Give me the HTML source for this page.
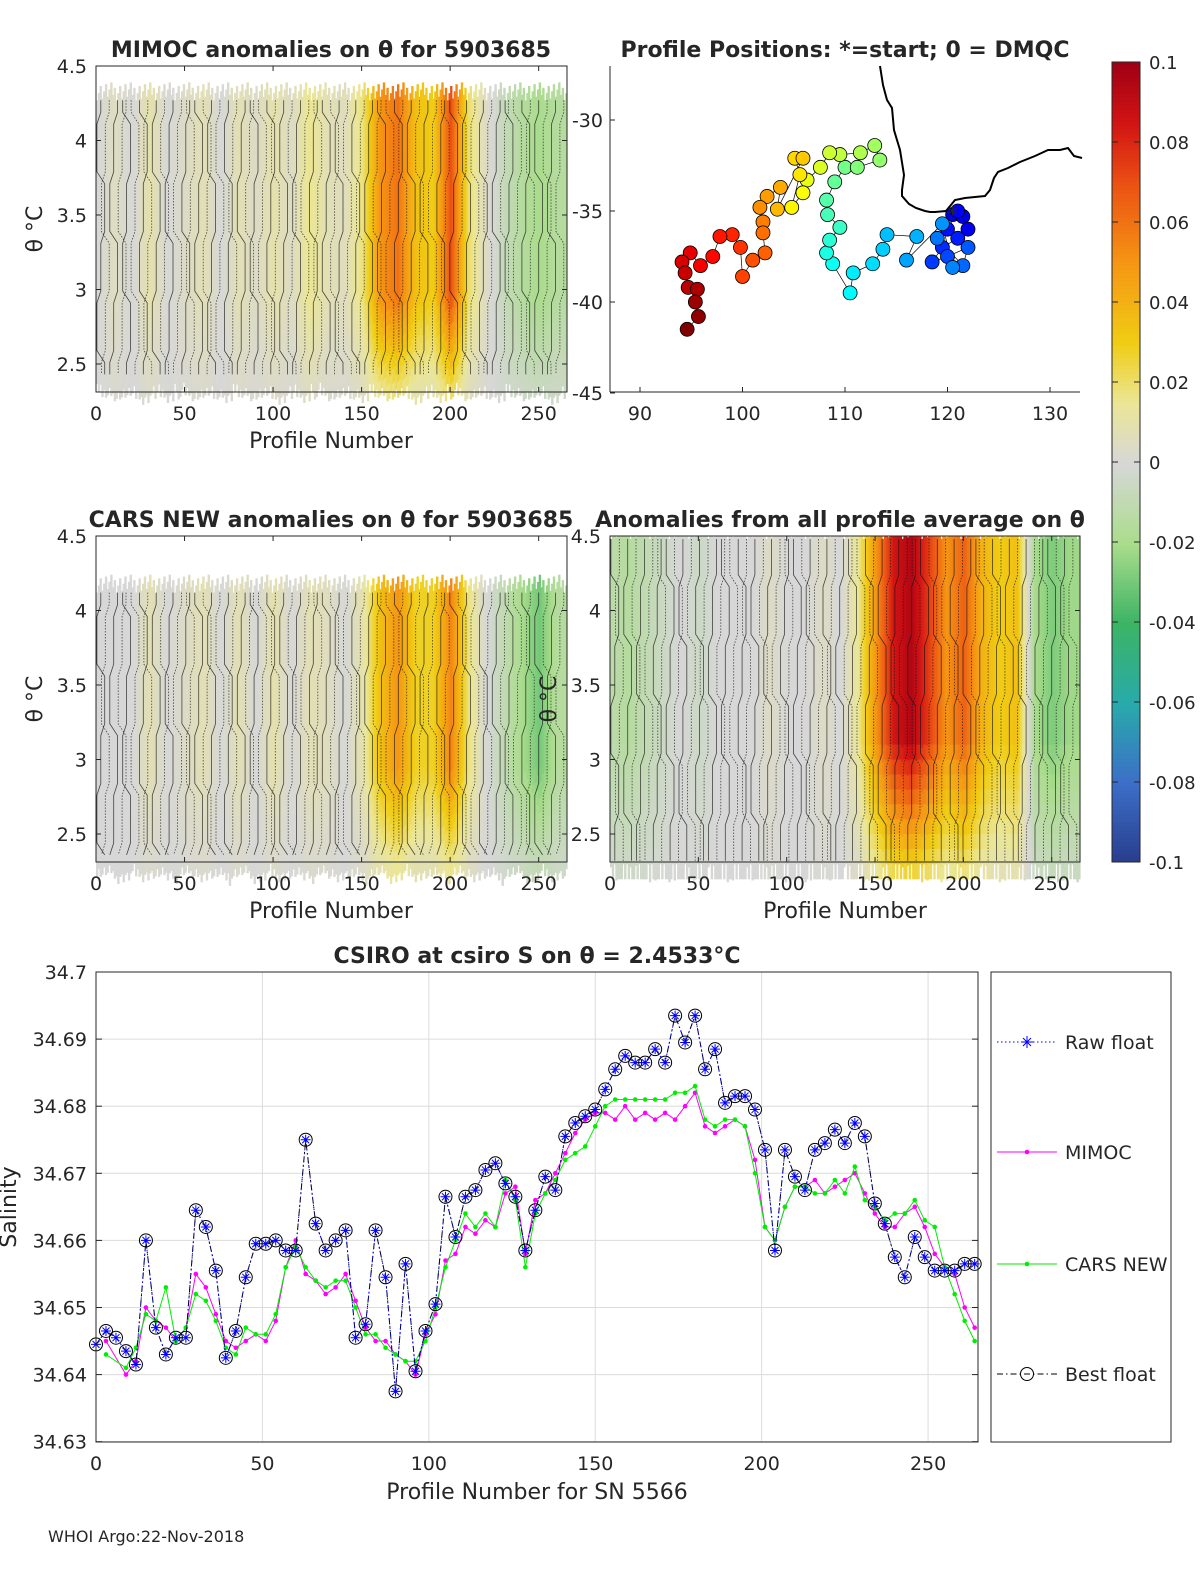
<!DOCTYPE html>
<html><head><meta charset="utf-8">
<style>
body{margin:0;background:#fff;font-family:"Liberation Sans","DejaVu Sans",sans-serif;overflow:hidden}
svg{display:block}
text{font-family:"DejaVu Sans","Liberation Sans",sans-serif;fill:#262626}
</style></head>
<body>
<svg id="fig" width="1200" height="1575" viewBox="0 0 1200 1575">
<rect width="1200" height="1575" fill="#fff"/>
<g id="heat1"></g>
<g id="heat3"></g>
<g id="heat4"></g>
<g id="map"></g>
<g id="cbar"></g>
<g id="line"></g>
<g id="axes"></g>
<text x="48" y="1542" font-size="16" fill="#000">WHOI Argo:22-Nov-2018</text>
</svg>
<script>
// ---------- data ----------
const heatProfiles=[0,10,20,30,40,50,60,70,80,90,100,110,120,130,140,150,160,170,180,190,200,210,220,230,240,250,260];
const mimocAnom=[0,0.005,0,0.01,0,0.004,0.008,0,0.008,0.004,0.01,0.004,0.016,0.008,0.006,0.018,0.05,0.06,0.035,0.03,0.07,0.02,0.004,-0.008,-0.015,-0.02,-0.015];
const carsAnom=[0,0,0,0.008,0,0.004,0.008,0,0.008,0,0.01,0,0.008,0.006,0,0.01,0.035,0.05,0.028,0.028,0.055,0.018,0,-0.01,-0.02,-0.03,-0.015];
const avgAnom=[-0.012,-0.015,-0.01,-0.005,0,-0.005,0,0,0,0.004,0,0,0.004,0,0.015,0.05,0.085,0.095,0.075,0.05,0.065,0.04,0.03,0.035,-0.02,-0.028,-0.022];

const bestProf=[0,3,6,9,12,15,18,21,24,27,30,33,36,39,42,45,48,51,54,57,60,63,66,69,72,75,78,81,84,87,90,93,96,99,102,105,108,111,114,117,120,123,126,129,132,135,138,141,144,147,150,153,156,159,162,165,168,171,174,177,180,183,186,189,192,195,198,201,204,207,210,213,216,219,222,225,228,231,234,237,240,243,246,249,252,255,258,261,264];
const bestSal=[34.6445,34.6465,34.6455,34.6435,34.6415,34.660,34.647,34.643,34.6455,34.6455,34.6645,34.662,34.6555,34.6425,34.6465,34.6545,34.6595,34.6595,34.660,34.6585,34.6585,34.675,34.6625,34.6585,34.660,34.6615,34.6455,34.6475,34.6615,34.6545,34.6375,34.6565,34.6405,34.6465,34.6505,34.6665,34.6605,34.6665,34.6675,34.6705,34.6715,34.6685,34.6665,34.6585,34.6645,34.6695,34.6675,34.6755,34.6775,34.6785,34.6795,34.6825,34.6855,34.6875,34.6865,34.6865,34.6885,34.6865,34.6935,34.6895,34.6935,34.6855,34.6885,34.6805,34.6815,34.6815,34.6795,34.6735,34.6585,34.6735,34.6695,34.6675,34.6735,34.6745,34.6765,34.6745,34.6775,34.6755,34.6655,34.6625,34.6575,34.6545,34.6605,34.6575,34.6555,34.6555,34.6555,34.6565,34.6565];
const modProf=[3,9,12,15,18,21,24,27,30,33,36,39,42,45,48,51,54,57,60,63,66,69,72,75,78,81,84,87,90,93,96,99,102,105,108,111,114,117,120,123,126,129,132,135,138,141,144,147,150,153,156,159,162,165,168,171,174,177,180,183,186,189,192,195,198,201,204,207,210,213,216,219,222,225,228,231,234,237,240,243,246,249,252,255,258,261,264];
const mimocSal=[34.645,34.640,34.642,34.650,34.648,34.647,34.645,34.647,34.655,34.653,34.649,34.645,34.644,34.645,34.646,34.645,34.648,34.656,34.660,34.655,34.654,34.652,34.653,34.655,34.651,34.647,34.645,34.645,34.643,34.642,34.640,34.646,34.649,34.657,34.658,34.662,34.661,34.663,34.662,34.667,34.668,34.658,34.666,34.667,34.670,34.673,34.676,34.678,34.679,34.679,34.678,34.680,34.678,34.679,34.678,34.679,34.678,34.680,34.682,34.677,34.676,34.677,34.678,34.677,34.672,34.662,34.660,34.665,34.668,34.668,34.669,34.667,34.668,34.669,34.670,34.667,34.664,34.662,34.662,34.664,34.665,34.662,34.658,34.656,34.655,34.650,34.647];
const carsSal=[34.643,34.641,34.644,34.649,34.648,34.653,34.645,34.647,34.652,34.651,34.648,34.644,34.643,34.647,34.646,34.646,34.649,34.656,34.659,34.656,34.654,34.653,34.654,34.654,34.650,34.646,34.646,34.644,34.643,34.642,34.642,34.645,34.650,34.656,34.660,34.664,34.662,34.664,34.662,34.669,34.666,34.656,34.664,34.667,34.669,34.672,34.673,34.674,34.677,34.680,34.681,34.681,34.681,34.681,34.681,34.681,34.682,34.682,34.683,34.678,34.677,34.678,34.678,34.677,34.670,34.662,34.660,34.665,34.668,34.668,34.667,34.667,34.669,34.667,34.671,34.666,34.665,34.663,34.664,34.664,34.666,34.663,34.662,34.656,34.652,34.648,34.645];
const salTicks=[34.63,34.64,34.65,34.66,34.67,34.68,34.69,34.7];
const profTicks=[0,50,100,150,200,250];

const trackLon=[120.5,121.5,122,121,120,121,119.5,118.5,120,122,121.5,119,120.5,119.5,116,117,114.1,113.7,112.7,110.8,110.5,108.8,108.2,108.5,109.5,108.3,108.2,109,110,111.2,113.4,112.9,111.5,109.5,108.5,107.6,106.3,105.9,104.8,105.6,105.1,105.9,103.4,103.7,102.4,101.7,102,102,102.2,101,100,99.8,99,97.8,97.1,95.9,94.9,94.1,94.4,94.7,95.6,95.4,95.7,94.6];
const trackLat=[-35.2,-35.3,-36,-35,-36,-36.5,-37,-37.8,-37.5,-37,-38,-36.5,-38.1,-35.7,-37.7,-36.4,-36.3,-37.1,-37.9,-38.4,-39.5,-37.9,-37.3,-36.6,-35.9,-35.2,-34.4,-33.4,-32.6,-32.6,-32.2,-31.4,-31.8,-31.9,-31.8,-32.6,-33.3,-34,-34.8,-33,-32.1,-32.1,-34.9,-33.7,-34.2,-34.8,-35.6,-36.2,-37.3,-37.7,-38.6,-37,-36.3,-36.4,-37.5,-38,-37.3,-37.8,-38.4,-39.2,-39.3,-40,-40.8,-41.5];

const NS='http://www.w3.org/2000/svg';
function mk(parent,tag,attrs,txt){const e=document.createElementNS(NS,tag);for(const k in attrs)e.setAttribute(k,attrs[k]);if(txt!==undefined)e.textContent=txt;parent.appendChild(e);return e;}

const cstops=[[-0.1,[40,60,140]],[-0.08,[60,110,200]],[-0.06,[40,170,170]],[-0.04,[60,180,100]],[-0.02,[170,220,140]],[0,[215,215,215]],[0.015,[235,230,150]],[0.03,[240,205,20]],[0.05,[245,150,20]],[0.07,[235,80,20]],[0.085,[210,20,20]],[0.1,[160,0,20]]];
function acol(v){v=Math.max(-0.1,Math.min(0.1,v));for(let i=0;i<cstops.length-1;i++){const a=cstops[i],b=cstops[i+1];if(v<=b[0]){const t=(v-a[0])/(b[0]-a[0]);const c=a[1].map((x,j)=>Math.round(x+(b[1][j]-x)*t));return `rgb(${c})`;}}return 'rgb(160,0,20)';}
function jet(t){const r=Math.max(0,Math.min(1,1.5-Math.abs(4*t-3))),g=Math.max(0,Math.min(1,1.5-Math.abs(4*t-2))),b=Math.max(0,Math.min(1,1.5-Math.abs(4*t-1)));return `rgb(${Math.round(r*255)},${Math.round(g*255)},${Math.round(b*255)})`;}
function interp(xs,ys,x){if(x<=xs[0])return ys[0];for(let i=0;i<xs.length-1;i++){if(x<=xs[i+1]){const t=(x-xs[i])/(xs[i+1]-xs[i]);return ys[i]+(ys[i+1]-ys[i])*t;}}return ys[ys.length-1];}

const axes=document.getElementById('axes');
function heatPanel(gid,L,R,T,B,anom,topTh,botTh,vert){
  const g=document.getElementById(gid);
  const xs=p=>L+p*(R-L)/266, ys=th=>T+(4.5-th)*149;
  for(let p=0;p<266;p++){
    const a=interp(heatProfiles,anom,p);
    const tt=Math.min(4.5,topTh+((p*37)%11)*0.012), bb=botTh-((p*53)%7)*0.01;
    for(let th=tt;th>bb;th-=0.1){
      const f=vert(th);
      const r=mk(g,'rect',{x:xs(p).toFixed(1),y:ys(th).toFixed(1),width:((R-L)/266+0.6).toFixed(2),height:15.5,fill:acol(a*f)});
      
      
    }
  }
  for(let p=2;p<264;p+=4){
    let d='';const x0=xs(p);
    for(let th=topTh;th>botTh;th-=0.08){const dx=((p*7+Math.round(th*40)*3)%9-4)*1.3;d+=(d?'L':'M')+(x0+dx).toFixed(1)+','+ys(th).toFixed(1);}
    const pl=mk(g,'path',{d:d,fill:'none',stroke:'#111','stroke-width':0.8,'stroke-dasharray':(p%8==2)?'none':'1.5,1.5','stroke-opacity':0.75});
    
    
  }
  mk(g,'rect',{x:L,y:T,width:R-L,height:B-T,fill:'none',stroke:'#262626','stroke-width':1});
  [2.5,3,3.5,4,4.5].forEach(v=>{const y=ys(v);mk(g,'line',{x1:L,x2:L+5,y1:y,y2:y,stroke:'#262626'});mk(g,'line',{x1:R,x2:R-5,y1:y,y2:y,stroke:'#262626'});});
  [0,50,100,150,200,250].forEach(v=>{const x=xs(v);mk(g,'line',{x1:x,x2:x,y1:B,y2:B-5,stroke:'#262626'});mk(g,'line',{x1:x,x2:x,y1:T,y2:T+5,stroke:'#262626'});mk(axes,'text',{x:x,y:B+28,'font-size':19,'text-anchor':'middle'},v);});
  return ys;
}
const vert1=th=>th>3.0?1:Math.max(0.3,1-(3.0-th)*1.1);
const ys1=heatPanel('heat1',96,567,66,392,mimocAnom,4.27,2.38,vert1);
const ys3=heatPanel('heat3',96,567,536,862,carsAnom,4.12,2.31,vert1);
const ys4=heatPanel('heat4',610,1080,536,862,avgAnom,4.48,2.31,th=>th>3.2?1:Math.max(0.25,1-(3.2-th)*0.8));
[ys1,ys3].forEach(ys=>{[2.5,3,3.5,4,4.5].forEach(v=>mk(axes,'text',{x:87,y:ys(v)+7,'font-size':19,'text-anchor':'end'},v));});
[2.5,3,3.5,4,4.5].forEach(v=>mk(axes,'text',{x:601,y:ys4(v)+7,'font-size':19,'text-anchor':'end'},v));
mk(axes,'text',{x:331,y:448,'font-size':22,'text-anchor':'middle'},'Profile Number');
mk(axes,'text',{x:331,y:918,'font-size':22,'text-anchor':'middle'},'Profile Number');
mk(axes,'text',{x:845,y:918,'font-size':22,'text-anchor':'middle'},'Profile Number');
mk(axes,'text',{x:42,y:229,'font-size':22,'text-anchor':'middle',transform:'rotate(-90 42 229)'},'θ °C');
mk(axes,'text',{x:42,y:699,'font-size':22,'text-anchor':'middle',transform:'rotate(-90 42 699)'},'θ °C');
mk(axes,'text',{x:556,y:699,'font-size':22,'text-anchor':'middle',transform:'rotate(-90 556 699)'},'θ °C');
mk(axes,'text',{x:331,y:57,'font-size':22,'font-weight':'bold','text-anchor':'middle',fill:'#000'},'MIMOC anomalies on θ  for 5903685');
mk(axes,'text',{x:845,y:57,'font-size':22,'font-weight':'bold','text-anchor':'middle',fill:'#000'},'Profile Positions: *=start; 0 = DMQC');
mk(axes,'text',{x:331,y:527,'font-size':22,'font-weight':'bold','text-anchor':'middle',fill:'#000'},'CARS NEW anomalies on θ for 5903685');
mk(axes,'text',{x:840,y:527,'font-size':22,'font-weight':'bold','text-anchor':'middle',fill:'#000'},'Anomalies from all profile average on θ');

// ---------- map ----------
const mapG=document.getElementById('map');
const mx=lon=>640+(lon-90)*10.25, my=lat=>120+(-30-lat)*18.2;
mk(mapG,'path',{d:'M880,66 L883,85 L887,100 L892,108 L894,130 L900,150 L904,175 L902,190 L902,196 L909,204 L916,208 L925,211 L930,212 L935,212 L946,211 L955,200 L965,198 L975,197 L985,196 L990,190 L994,178 L998,172 L1008,168 L1020,162 L1035,156 L1048,150 L1060,150 L1068,148 L1074,156 L1082,158',fill:'none',stroke:'#000','stroke-width':2});
let tp='';trackLon.forEach((l,i)=>{tp+=(i?'L':'M')+mx(l).toFixed(1)+','+my(trackLat[i]).toFixed(1);});
mk(mapG,'path',{d:tp,fill:'none',stroke:'#000','stroke-width':0.7});
trackLon.forEach((l,i)=>{const c=mk(mapG,'circle',{cx:mx(l),cy:my(trackLat[i]),r:7,fill:jet(0.08+0.92*i/(trackLon.length-1)),stroke:'#000','stroke-width':0.8});});
mk(mapG,'text',{x:mx(120.5),y:my(-35.2)+7,'font-size':20,fill:'#fff','text-anchor':'middle'},'*');
mk(mapG,'line',{x1:610,x2:610,y1:66,y2:392,stroke:'#262626'});
mk(mapG,'line',{x1:610,x2:1080,y1:392,y2:392,stroke:'#262626'});
[90,100,110,120,130].forEach(v=>{const x=mx(v);mk(mapG,'line',{x1:x,x2:x,y1:392,y2:387,stroke:'#262626'});mk(axes,'text',{x:x,y:420,'font-size':19,'text-anchor':'middle'},v);});
[-30,-35,-40,-45].forEach(v=>{const y=my(v);mk(mapG,'line',{x1:610,x2:615,y1:y,y2:y,stroke:'#262626'});mk(axes,'text',{x:603,y:y+7,'font-size':19,'text-anchor':'end'},v);});

// ---------- colorbar ----------
const cb=document.getElementById('cbar');
for(let i=0;i<200;i++){const v=0.1-i*0.001;mk(cb,'rect',{x:1112,y:62+i*4,width:28,height:4.5,fill:acol(v)});}
mk(cb,'rect',{x:1112,y:62,width:28,height:800,fill:'none',stroke:'#262626'});
[0.1,0.08,0.06,0.04,0.02,0,-0.02,-0.04,-0.06,-0.08,-0.1].forEach(v=>{const y=62+(0.1-v)*4000;mk(cb,'line',{x1:1140,x2:1134,y1:y,y2:y,stroke:'#262626'});mk(cb,'line',{x1:1112,x2:1118,y1:y,y2:y,stroke:'#262626'});mk(axes,'text',{x:1149,y:y+7,'font-size':18},String(v));});

// ---------- salinity chart ----------
const lg=document.getElementById('line');
const L=96,R=978,T=972,B=1442;
const sx=p=>L+p*(R-L)/265, sy=s=>T+(34.7-s)*6710;
salTicks.forEach(v=>{const y=sy(v);mk(lg,'line',{x1:L,x2:R,y1:y,y2:y,stroke:'#dcdcdc'});mk(lg,'line',{x1:L,x2:L+6,y1:y,y2:y,stroke:'#262626'});mk(lg,'line',{x1:R,x2:R-6,y1:y,y2:y,stroke:'#262626'});mk(axes,'text',{x:87,y:y+7,'font-size':19,'text-anchor':'end'},v.toFixed(v>34.695?1:2));});
profTicks.forEach(v=>{const x=sx(v);mk(lg,'line',{x1:x,x2:x,y1:T,y2:B,stroke:'#dcdcdc'});mk(axes,'text',{x:x,y:B+28,'font-size':19,'text-anchor':'middle'},v);});
function pathOf(xs,ys){return xs.map((p,i)=>(i?'L':'M')+sx(p).toFixed(1)+','+sy(ys[i]).toFixed(1)).join('');}
mk(lg,'path',{d:pathOf(modProf,mimocSal),fill:'none',stroke:'#ff00ff','stroke-width':1});
modProf.forEach((p,i)=>{const c=mk(lg,'circle',{cx:sx(p),cy:sy(mimocSal[i]),r:2.3,fill:'#ff00ff'});});
mk(lg,'path',{d:pathOf(modProf,carsSal),fill:'none',stroke:'#00ee00','stroke-width':1});
modProf.forEach((p,i)=>{const c=mk(lg,'circle',{cx:sx(p),cy:sy(carsSal[i]),r:2.3,fill:'#00ee00'});});
mk(lg,'path',{d:pathOf(bestProf,bestSal),fill:'none',stroke:'#000','stroke-width':1,'stroke-dasharray':'6,3,1.5,3'});
mk(lg,'path',{d:pathOf(bestProf,bestSal),fill:'none',stroke:'#0000ff','stroke-width':1,'stroke-dasharray':'1.5,2.5'});
bestProf.forEach((p,i)=>{const x=sx(p),y=sy(bestSal[i]);
  const c=mk(lg,'circle',{cx:x,cy:y,r:6.5,fill:'none',stroke:'#000','stroke-width':1});
  const s=mk(lg,'path',{d:`M${x-5},${y}h10M${x},${y-5}v10M${x-3.5},${y-3.5}l7,7M${x-3.5},${y+3.5}l7,-7`,stroke:'#0000ff','stroke-width':1});});
mk(lg,'rect',{x:L,y:T,width:R-L,height:B-T,fill:'none',stroke:'#262626'});
mk(axes,'text',{x:537,y:1499,'font-size':22,'text-anchor':'middle'},'Profile Number for SN 5566');
mk(axes,'text',{x:16,y:1207,'font-size':22,'text-anchor':'middle',transform:'rotate(-90 16 1207)'},'Salinity');
mk(axes,'text',{x:537,y:963,'font-size':22,'font-weight':'bold','text-anchor':'middle',fill:'#000'},'CSIRO at csiro S on θ = 2.4533°C');
const leg=mk(lg,'g',{});
mk(leg,'rect',{x:991,y:972,width:180,height:470,fill:'#fff',stroke:'#262626'});
[['Raw float',1042,'#0000ff','1.5,2.5'],['MIMOC',1152,'#ff00ff','none'],['CARS NEW',1264,'#00ee00','none'],['Best float',1374,'#000','6,3,1.5,3']].forEach(([t,y,c,da])=>{
  mk(leg,'line',{x1:997,x2:1057,y1:y,y2:y,stroke:c,'stroke-dasharray':da});
  if(t=='Raw float')mk(leg,'path',{d:`M1021,${y}h12M1027,${y-6}v12M1023,${y-4}l8,8M1023,${y+4}l8,-8`,stroke:c});
  else if(t=='Best float')mk(leg,'circle',{cx:1027,cy:y,r:6.5,fill:'none',stroke:'#000'});
  else mk(leg,'circle',{cx:1027,cy:y,r:2.3,fill:c});
  mk(leg,'text',{x:1065,y:y+7,'font-size':19},t);
});
</script>
</body></html>
